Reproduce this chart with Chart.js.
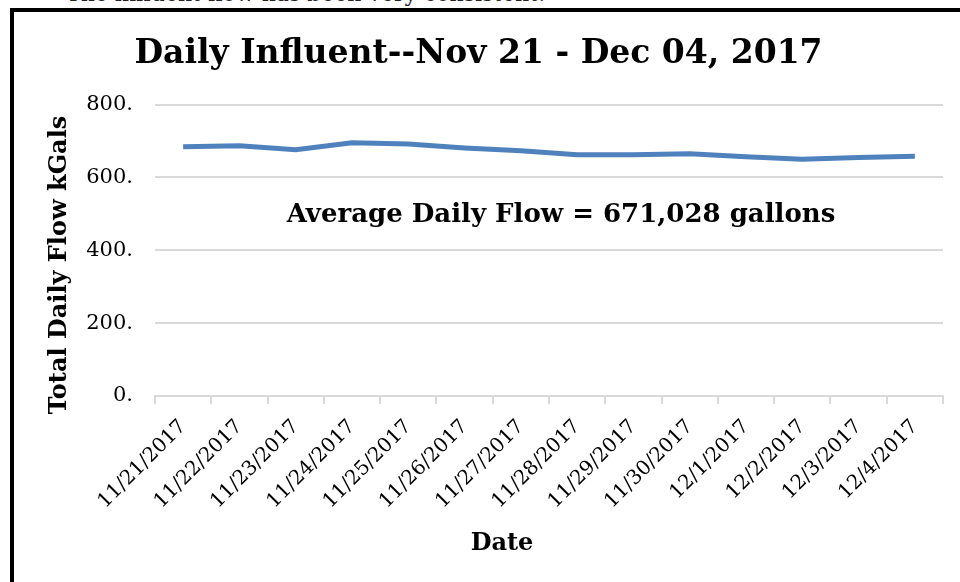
<!DOCTYPE html>
<html>
<head>
<meta charset="utf-8">
<script src="https://cdn.jsdelivr.net/npm/chart.js@4.4.1/dist/chart.umd.min.js"></script>
<style>
  html, body { margin: 0; padding: 0; width: 960px; height: 582px; overflow: hidden; background: #fff; }
  #topnote { position: absolute; left: 66px; top: -19px; font: 22px "DejaVu Serif", serif; color: #222; white-space: nowrap; }
  #frame { position: absolute; left: 10px; top: 8px; width: 970px; height: 600px; border: 4px solid #000; box-sizing: border-box; overflow: hidden; background: #fff; }
  #wrap { position: absolute; left: 0px; top: 0px; width: 952px; height: 570px; }
</style>
</head>
<body>
<div id="topnote">The influent flow has been very consistent.</div>
<div id="frame"><div id="wrap"><canvas id="c"></canvas></div></div>
<script>
const categories = ["11/21/2017","11/22/2017","11/23/2017","11/24/2017","11/25/2017","11/26/2017","11/27/2017","11/28/2017","11/29/2017","11/30/2017","12/1/2017","12/2/2017","12/3/2017","12/4/2017"];
const flowKGals = [684, 687, 676, 695, 692, 681, 673, 662, 662, 665, 657, 650, 655, 658];
const yTicks = [0, 200, 400, 600, 800];
const titleText = "Daily Influent--Nov 21 - Dec 04, 2017";
const noteText = "Average Daily Flow = 671,028 gallons";
const yTitleText = "Total Daily Flow kGals";
const xTitleText = "Date";

const SERIF = '"DejaVu Serif", "Liberation Serif", serif';

const textPlugin = {
  id: 'texts',
  afterDraw(chart) {
    const ctx = chart.ctx;
    ctx.save();
    ctx.fillStyle = '#000';
    ctx.textAlign = 'center';
    ctx.textBaseline = 'middle';
    ctx.font = 'bold 26px ' + SERIF;
    ctx.fillText(noteText, 547, 203);
    ctx.font = 'bold 24px ' + SERIF;
    ctx.fillText(xTitleText, 488, 532);
    ctx.translate(46, 253);
    ctx.rotate(-Math.PI / 2);
    ctx.font = 'bold 24px ' + SERIF;
    ctx.fillText(yTitleText, 0, 0);
    ctx.restore();
  }
};

new Chart(document.getElementById('c'), {
  type: 'line',
  data: {
    labels: categories,
    datasets: [{
      data: flowKGals,
      borderColor: '#4f81bd',
      borderWidth: 5,
      pointRadius: 0,
      tension: 0,
      fill: false
    }]
  },
  options: {
    responsive: true,
    maintainAspectRatio: false,
    animation: false,
    layout: { padding: { left: 0, right: 23, top: 0, bottom: 0 } },
    plugins: {
      legend: { display: false },
      tooltip: { enabled: false },
      title: {
        display: true,
        text: titleText,
        color: '#000',
        font: { family: SERIF, size: 33, weight: 'bold' },
        padding: { top: 23, bottom: 30 }
      }
    },
    scales: {
      x: {
        type: 'category',
        offset: true,
        grid: { offset: true, drawOnChartArea: false, drawTicks: true, tickLength: 8, color: '#d9d9d9', lineWidth: 2 },
        border: { display: true, color: '#d9d9d9', width: 2 },
        ticks: { minRotation: 45, maxRotation: 45, autoSkip: false, padding: 11, color: '#000', font: { family: SERIF, size: 20 } },
        afterFit(scale) { scale.height = 186; }
      },
      y: {
        min: 0,
        max: 800,
        afterBuildTicks(scale) { scale.ticks = yTicks.map(v => ({ value: v })); },
        grid: { color: '#d9d9d9', lineWidth: 2, drawTicks: false },
        border: { display: false },
        ticks: { padding: 22, color: '#000', font: { family: SERIF, size: 21 }, callback: v => v + '.' },
        afterFit(scale) { scale.width = 141; }
      }
    }
  },
  plugins: [textPlugin]
});
</script>
</body>
</html>
